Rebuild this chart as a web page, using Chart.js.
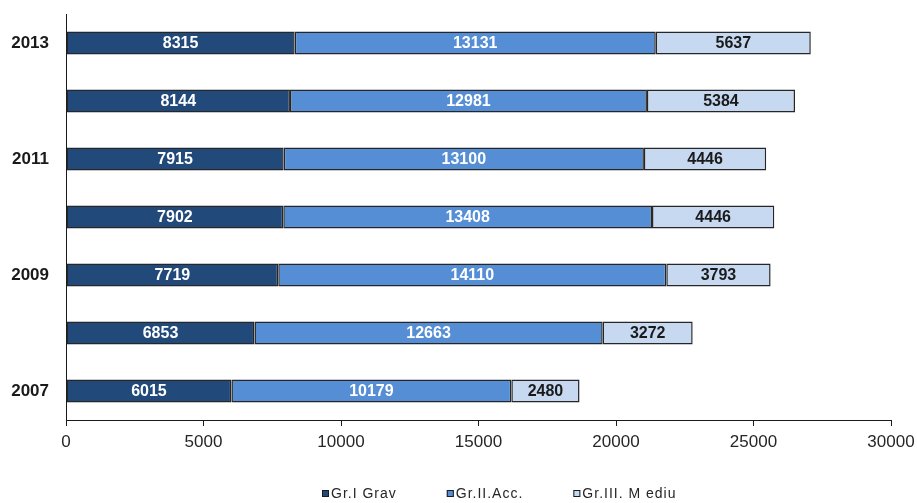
<!DOCTYPE html>
<html>
<head>
<meta charset="utf-8">
<script src="https://cdn.jsdelivr.net/npm/chart.js@4/dist/chart.umd.min.js"></script>
<style>
	html, body { margin: 0; padding: 0; background: #fff; overflow: hidden; }
	#wrap { width: 917px; height: 503px; }
</style>
</head>
<body>
<div id="wrap"><canvas id="chart" width="917" height="503"></canvas></div>
<script>
// Dati
const years = ['2007', '2008', '2009', '2010', '2011', '2012', '2013']
const grav = [6015, 6853, 7719, 7902, 7915, 8144, 8315]
const acc = [10179, 12663, 14110, 13408, 13100, 12981, 13131]
const mediu = [2480, 3272, 3793, 4446, 4446, 5384, 5637]
const seriesNames = ['Gr.I Grav', 'Gr.II.Acc.', 'Gr.III. M ediu']
const xTicks = [0, 5000, 10000, 15000, 20000, 25000, 30000]

const FONT = "'Liberation Sans', Arial, sans-serif"

// etichette dentro le barre
const barLabels = {
	id: 'barLabels',
	afterDatasetsDraw(chart) {
		const ctx = chart.ctx
		ctx.save()
		ctx.font = 'bold 16px ' + FONT
		ctx.textAlign = 'center'
		ctx.textBaseline = 'middle'
		chart.data.datasets.forEach((ds, i) => {
			const meta = chart.getDatasetMeta(i)
			ctx.fillStyle = i < 2 ? '#ffffff' : '#1a1a1a'
			meta.data.forEach((bar, j) => {
				const p = bar.getCenterPoint()
				ctx.fillText(String(ds.data[j]), p.x, p.y + 1)
			})
		})
		ctx.restore()
	},
}

// legenda in basso
const bottomLegend = {
	id: 'bottomLegend',
	afterDraw(chart) {
		const ctx = chart.ctx
		ctx.save()
		ctx.font = '14px ' + FONT
		ctx.letterSpacing = '1px'
		ctx.textBaseline = 'middle'
		ctx.textAlign = 'left'
		const y = 494
		let x = 322
		chart.data.datasets.forEach(ds => {
			ctx.fillStyle = ds.backgroundColor
			ctx.fillRect(x, y - 4, 7, 7)
			ctx.strokeStyle = '#1a1a1a'
			ctx.lineWidth = 1
			ctx.strokeRect(x + 0.5, y - 3.5, 6, 6)
			ctx.fillStyle = '#262626'
			ctx.fillText(ds.label, x + 9, y)
			x += 9 + ctx.measureText(ds.label).width + 50
		})
		ctx.restore()
	},
}

new Chart(document.getElementById('chart').getContext('2d'), {
	type: 'bar',
	data: {
		labels: years,
		datasets: [
			{ label: seriesNames[0], data: grav, backgroundColor: '#214a7b' },
			{ label: seriesNames[1], data: acc, backgroundColor: '#558ed5' },
			{ label: seriesNames[2], data: mediu, backgroundColor: '#c6d9f1' },
		].map(d => ({
			...d,
			borderColor: '#262626',
			borderWidth: 1.5,
			borderSkipped: false,
			barPercentage: 0.4,
			categoryPercentage: 1,
		})),
	},
	options: {
		indexAxis: 'y',
		responsive: false,
		animation: false,
		layout: { padding: { left: 10, top: 14, right: 26, bottom: 47 } },
		scales: {
			x: {
				stacked: true,
				min: 0,
				max: 30000,
				afterBuildTicks(scale) {
					scale.ticks = xTicks.map(v => ({ value: v }))
				},
				afterFit(scale) {
					scale.height = 36
					scale.paddingLeft = 0
					scale.paddingRight = 0
				},
				grid: {
					drawOnChartArea: false,
					drawTicks: true,
					tickLength: 6,
					color: '#1a1a1a',
				},
				border: { display: true, color: '#1a1a1a', width: 1 },
				ticks: {
					color: '#262626',
					padding: 6,
					maxRotation: 0,
					font: { family: FONT, size: 17 },
					callback: v => String(v),
				},
			},
			y: {
				stacked: true,
				reverse: true,
				afterFit(scale) {
					scale.width = 56
					scale.paddingTop = 0
					scale.paddingBottom = 0
				},
				grid: { display: false, drawTicks: false },
				border: { display: true, color: '#1a1a1a', width: 1 },
				ticks: {
					autoSkip: false,
					padding: 17,
					color: '#1a1a1a',
					font: { family: FONT, size: 17, weight: 'bold' },
					callback: (v, i) => (i % 2 === 0 ? years[i] : ''),
				},
			},
		},
		plugins: {
			legend: { display: false },
			tooltip: { enabled: false },
		},
	},
	plugins: [barLabels, bottomLegend],
})
</script>
</body>
</html>
